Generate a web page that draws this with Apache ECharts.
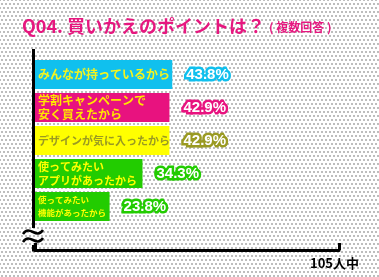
<!DOCTYPE html>
<html><head><meta charset="utf-8">
<script src="https://cdn.jsdelivr.net/npm/echarts@6/dist/echarts.min.js"></script>
<style>
html,body{margin:0;padding:0;}
body{background-color:#fff;
background-image:radial-gradient(circle,#999 0.6px,transparent 0.9px),radial-gradient(circle,#999 0.6px,transparent 0.9px);
background-size:4px 8px,4px 8px;background-position:0 0,2px 4px;}
#c{width:379px;height:277px;}
</style></head><body>
<div id="c"></div>
<script>
const categories = ['みんなが持っているから','学割キャンペーンで\n安く買えたから','デザインが気に入ったから','使ってみたい\nアプリがあったから','使ってみたい\n機能があったから'];
const values = [43.8, 42.9, 42.9, 34.3, 23.8];
const barColors = ['#10c0ee','#e8127f','#ffff00','#22cc00','#22cc00'];
const textColors = ['#f4f41e','#ffe600','#9a9a22','#ffff00','#ffff00'];
const outlineColors = ['#10c0ee','#e8127f','#9a9a22','#22cc00','#22cc00'];
const textSizes = [12, 12, 11, 11, 8.5];
const lineHeights = [14, 14, 14, 14, 13];
const titleText = 'Q04. 買いかえのポイントは？';
const subText = '( 複数回答 )';
const totalText = '105人中';
const xMax = 97;

const font = '"Noto Sans CJK JP", sans-serif';
const rich = {};
categories.forEach((c, i) => {
  rich['c' + i] = {color: textColors[i], fontSize: textSizes[i], fontWeight: 'bold', lineHeight: lineHeights[i], fontFamily: font};
});

const chart = echarts.init(document.getElementById('c'), null, {renderer: 'canvas'});
chart.setOption({
  backgroundColor: 'transparent',
  animation: false,
  title: {
    left: 17, top: 12,
    text: '{a|' + titleText + '}{b|' + subText + '}',
    textStyle: {
      rich: {
        a: {color: '#e6177f', fontSize: 18, fontWeight: 'bold', fontFamily: font},
        b: {color: '#e6177f', fontSize: 12, fontWeight: 'bold', fontFamily: font, padding: [3, 0, 0, 4]}
      }
    }
  },
  grid: {left: 35, top: 58, height: 165, right: 40},
  xAxis: {
    type: 'value', min: 0, max: xMax, interval: xMax, offset: 27,
    axisLine: {show: true, lineStyle: {color: '#000', width: 3}},
    axisTick: {show: true, inside: true, length: 7, lineStyle: {color: '#000', width: 3}},
    axisLabel: {show: false},
    splitLine: {show: false}
  },
  yAxis: {
    type: 'category', inverse: true, data: categories,
    axisLine: {show: false}, axisTick: {show: false},
    axisLabel: {
      inside: true, margin: 3, align: 'left',
      formatter: (v, i) => '{c' + i + '|' + v + '}',
      rich: rich
    },
    z: 5
  },
  series: [{
    type: 'bar', barWidth: 29,
    data: values.map((v, i) => ({
      value: v,
      itemStyle: {color: barColors[i]},
      label: {textBorderColor: outlineColors[i]}
    })),
    label: {
      show: true, position: 'right', distance: 14,
      formatter: '{c}%', color: '#fff', fontSize: 15, fontWeight: 'bold',
      fontFamily: 'Liberation Sans, Arial, sans-serif',
      textBorderWidth: 5
    }
  }],
  graphic: [
    {type: 'line', shape: {x1: 33.5, y1: 49, x2: 33.5, y2: 228}, style: {stroke: '#000', lineWidth: 3}},
    {type: 'line', shape: {x1: 33.5, y1: 245, x2: 33.5, y2: 251.5}, style: {stroke: '#000', lineWidth: 3}},
    {type: 'bezierCurve', shape: {x1: 23, y1: 234, cpx1: 30, cpy1: 224, cpx2: 36, cpy2: 240, x2: 43, y2: 230}, style: {stroke: '#000', fill: null, lineWidth: 2.5}},
    {type: 'bezierCurve', shape: {x1: 23, y1: 242, cpx1: 30, cpy1: 232, cpx2: 36, cpy2: 248, x2: 43, y2: 238}, style: {stroke: '#000', fill: null, lineWidth: 2.5}},
    {type: 'text', left: 310, top: 257, style: {text: totalText, fill: '#000', font: 'bold 13px "Noto Sans CJK JP", sans-serif'}}
  ]
});
</script>
</body></html>
